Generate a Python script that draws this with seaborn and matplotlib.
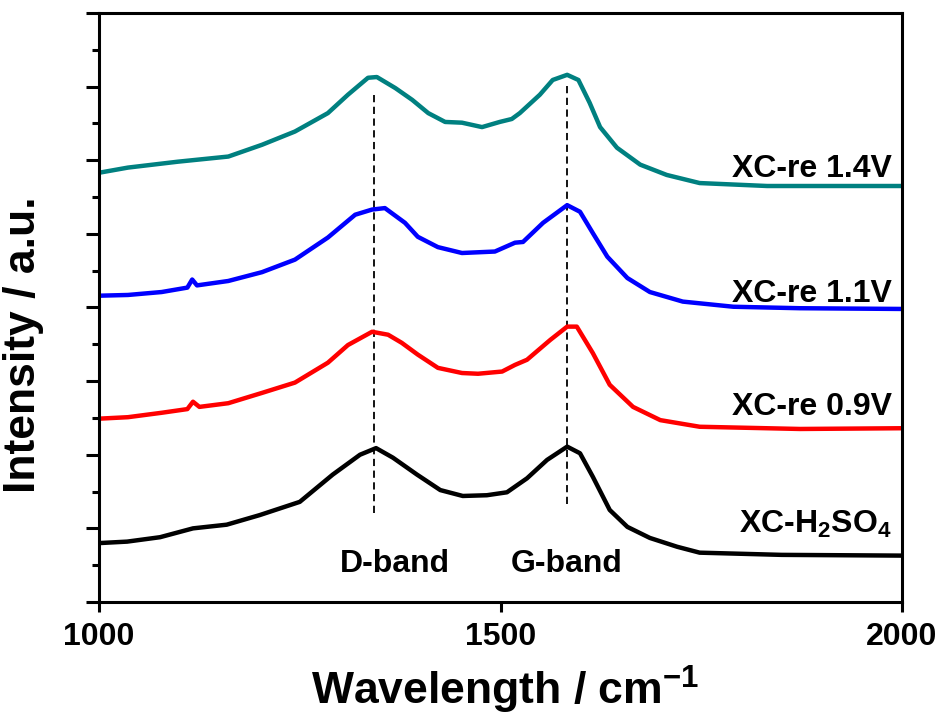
import matplotlib
matplotlib.use("Agg")
import matplotlib.pyplot as plt
import seaborn as sns
import pandas as pd
from matplotlib.ticker import MultipleLocator, NullFormatter, FixedLocator

# ---- data (Raman shift in cm^-1, offset intensity in a.u.) ----
x_black = [1000, 1035, 1076, 1117, 1159, 1200, 1250, 1291, 1325, 1345, 1366, 1396, 1425, 1453,
           1483, 1508, 1533, 1558, 1583, 1599, 1615, 1636, 1658, 1686, 1720, 1748, 1850, 2000]
y_black = [0.80, 0.82, 0.88, 1.00, 1.05, 1.18, 1.36, 1.73, 2.00, 2.09, 1.96, 1.73, 1.52, 1.44,
           1.45, 1.49, 1.68, 1.93, 2.11, 2.02, 1.70, 1.25, 1.02, 0.87, 0.75, 0.67, 0.64, 0.63]

x_red = [1000, 1036, 1078, 1110, 1117, 1125, 1161, 1203, 1244, 1285, 1310, 1340, 1360, 1377, 1397,
         1422, 1452, 1472, 1502, 1518, 1533, 1562, 1583, 1595, 1615, 1636, 1665, 1699, 1748, 1873, 2000]
y_red = [2.49, 2.51, 2.57, 2.62, 2.72, 2.65, 2.70, 2.84, 2.98, 3.25, 3.49, 3.67, 3.63, 3.52, 3.36,
         3.18, 3.11, 3.10, 3.13, 3.22, 3.29, 3.56, 3.74, 3.74, 3.38, 2.95, 2.65, 2.47, 2.38, 2.35, 2.36]

x_blue = [1000, 1036, 1078, 1110, 1116, 1122, 1161, 1203, 1244, 1285, 1319, 1340, 1356, 1381, 1397,
          1422, 1452, 1493, 1518, 1528, 1553, 1583, 1599, 1615, 1633, 1658, 1686, 1727, 1790, 1873, 2000]
y_blue = [4.16, 4.17, 4.21, 4.27, 4.38, 4.30, 4.36, 4.48, 4.65, 4.95, 5.26, 5.33, 5.35, 5.15, 4.96,
          4.82, 4.74, 4.76, 4.88, 4.89, 5.15, 5.39, 5.30, 5.01, 4.69, 4.40, 4.21, 4.08, 4.01, 3.99, 3.98]

x_teal = [1000, 1036, 1098, 1161, 1203, 1244, 1285, 1310, 1335, 1346, 1369, 1390, 1410, 1431, 1452,
          1477, 1499, 1514, 1524, 1549, 1565, 1583, 1597, 1611, 1624, 1645, 1674, 1707, 1748, 1832, 1914, 2000]
y_teal = [5.83, 5.90, 5.98, 6.05, 6.21, 6.39, 6.64, 6.89, 7.12, 7.13, 6.98, 6.82, 6.64, 6.52, 6.51,
          6.45, 6.52, 6.56, 6.64, 6.89, 7.09, 7.16, 7.09, 6.78, 6.45, 6.17, 5.94, 5.80, 5.69, 5.65, 5.65, 5.65]

series_names = ["XC-H$_2$SO$_4$", "XC-re 0.9V", "XC-re 1.1V", "XC-re 1.4V"]
series_colors = ["#000000", "#FF0000", "#0000FF", "#008080"]
label_y = [0.94, 2.54, 4.08, 5.77]

band_names = ["D-band", "G-band"]
band_pos = [1343, 1583]
band_line_top = [6.93, 7.02]
band_line_bottom = [1.21, 1.33]
band_text_x = [1369, 1582]

xticks = [1000, 1500, 2000]

# ---- style ----
sns.set_style("ticks")
plt.rcParams["font.family"] = ["Liberation Sans", "DejaVu Sans"]
plt.rcParams["font.weight"] = "bold"
plt.rcParams["text.color"] = "black"
plt.rcParams["axes.labelcolor"] = "black"
plt.rcParams["axes.edgecolor"] = "black"
plt.rcParams["xtick.color"] = "black"
plt.rcParams["ytick.color"] = "black"
plt.rcParams["mathtext.fontset"] = "custom"
plt.rcParams["mathtext.rm"] = "Liberation Sans:bold"
plt.rcParams["mathtext.it"] = "Liberation Sans:bold"
plt.rcParams["mathtext.bf"] = "Liberation Sans:bold"
plt.rcParams["mathtext.default"] = "rm"

frames = []
for name, xs, ys in zip(series_names, [x_black, x_red, x_blue, x_teal],
                        [y_black, y_red, y_blue, y_teal]):
    frames.append(pd.DataFrame({"x": xs, "y": ys, "s": name}))
df = pd.concat(frames, ignore_index=True)

fig = plt.figure(figsize=(9.45, 7.17), dpi=100)
ax = fig.add_axes([0.1048, 0.1604, 0.9545 - 0.1048, 0.9819 - 0.1604])

# dashed band markers
ax.vlines(band_pos, band_line_bottom, band_line_top, colors="black",
          linestyles=(0, (4, 2.5)), linewidth=1.3, zorder=1)

sns.lineplot(data=df, x="x", y="y", hue="s", palette=dict(zip(series_names, series_colors)),
             hue_order=series_names, sort=False, estimator=None, linewidth=3.2,
             legend=False, ax=ax, zorder=2)

for name, ly in zip(series_names, label_y):
    ax.text(1987, ly, name, ha="right", va="baseline", fontsize=23, fontweight="bold", color="black")

for name, bx in zip(band_names, band_text_x):
    ax.text(bx, 0.41, name, ha="center", va="baseline", fontsize=23, fontweight="bold", color="black")

ax.set_xlim(1000, 2000)
ax.set_ylim(0, 8)
ax.xaxis.set_major_locator(FixedLocator(xticks))
ax.yaxis.set_major_locator(MultipleLocator(1))
ax.yaxis.set_minor_locator(MultipleLocator(0.5))
ax.yaxis.set_major_formatter(NullFormatter())
ax.tick_params(axis="y", which="major", length=9.5, width=2.2, direction="out", left=True,
               right=False, color="black")
ax.tick_params(axis="y", which="minor", length=5, width=2.2, direction="out", left=True,
               right=False, color="black")
ax.tick_params(axis="x", which="major", length=7.5, width=2.2, direction="out", pad=7,
               labelsize=23, top=False, color="black", labelcolor="black")
for lab in ax.get_xticklabels():
    lab.set_fontweight("bold")

for sp in ax.spines.values():
    sp.set_linewidth(2.2)
    sp.set_color("black")
    sp.set_visible(True)

ax.set_xlabel("Wavelength / cm$^{-1}$", fontsize=32, fontweight="bold", color="black")
ax.set_ylabel("Intensity / a.u.", fontsize=32, fontweight="bold", color="black")
ax.xaxis.set_label_coords(0.506, -0.105)
ax.yaxis.set_label_coords(-0.068, 0.436)

fig.savefig("out.png", dpi=100)
